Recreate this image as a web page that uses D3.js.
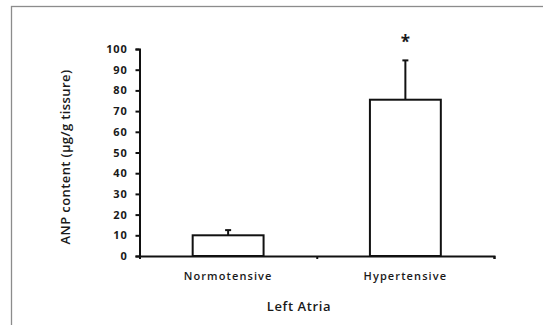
<!DOCTYPE html>
<html>
<head>
<meta charset="utf-8">
<script src="https://cdn.jsdelivr.net/npm/d3@7"></script>
<style>
  body { margin: 0; background: #fff; }
  svg text { font-family: "Open Sans", sans-serif; fill: #1a1a1a; }
</style>
</head>
<body>
<svg id="chart" width="543" height="325"></svg>
<script>
// Data -------------------------------------------------------------
const groups    = ["Normotensive", "Hypertensive"];
const means     = [10, 75.5];
const errors    = [2.5, 19];
const signif    = ["", "*"];
const yTicks    = [0, 10, 20, 30, 40, 50, 60, 70, 80, 90, 100];

// Layout -----------------------------------------------------------
const margin = { top: 49, right: 49, bottom: 69, left: 139.5 },
      fullW  = 543,
      fullH  = 325,
      width  = fullW - margin.left - margin.right,
      height = fullH - margin.top  - margin.bottom;

const svgBase = d3.select("#chart");

// grey frame around the figure
svgBase.append("rect")
  .attr("x", 11.5).attr("y", 6.5)
  .attr("width", 560).attr("height", 340)
  .attr("fill", "none")
  .attr("stroke", "#8c8c8c")
  .attr("stroke-width", 1.3);

const svg = svgBase.append("g")
  .attr("transform", `translate(${margin.left},${margin.top})`);

// Scales -----------------------------------------------------------
const x = d3.scaleBand().domain(groups).range([0, width]).paddingInner(0.6).paddingOuter(0.3);
const xEdges = d3.scaleLinear().domain([0, groups.length]).range([0, width]);
const y = d3.scaleLinear().domain([0, 100]).range([height, 0]);

// Bars -------------------------------------------------------------
const data = groups.map((g, i) => ({ g, v: means[i], e: errors[i], s: signif[i] }));

// error bars (drawn first so bar top covers the base)
svg.selectAll("line.err").data(data).join("line")
  .attr("class", "err")
  .attr("x1", d => x(d.g) + x.bandwidth() / 2)
  .attr("x2", d => x(d.g) + x.bandwidth() / 2)
  .attr("y1", d => y(d.v))
  .attr("y2", d => y(d.v + d.e))
  .attr("stroke", "#111").attr("stroke-width", 2);

svg.selectAll("line.cap").data(data).join("line")
  .attr("class", "cap")
  .attr("x1", d => x(d.g) + x.bandwidth() / 2 - 3)
  .attr("x2", d => x(d.g) + x.bandwidth() / 2 + 3)
  .attr("y1", d => y(d.v + d.e))
  .attr("y2", d => y(d.v + d.e))
  .attr("stroke", "#111").attr("stroke-width", 2);

svg.selectAll("rect.bar").data(data).join("rect")
  .attr("class", "bar")
  .attr("x", d => x(d.g))
  .attr("width", x.bandwidth())
  .attr("y", d => y(d.v))
  .attr("height", d => y(0) - y(d.v))
  .attr("fill", "#fff")
  .attr("stroke", "#111")
  .attr("stroke-width", 2);

// significance star
svg.selectAll("text.star").data(data).join("text")
  .attr("class", "star")
  .attr("x", d => x(d.g) + x.bandwidth() / 2)
  .attr("y", d => y(d.v + d.e) - 12)
  .attr("text-anchor", "middle")
  .style("font-size", "17px")
  .style("font-weight", "bold")
  .text(d => d.s);

// Axes -------------------------------------------------------------
const yAxis = svg.append("g")
  .call(d3.axisLeft(y).tickValues(yTicks).tickSize(4).tickPadding(8));
yAxis.select(".domain").attr("stroke", "#111").attr("stroke-width", 2);
yAxis.selectAll(".tick line").attr("stroke", "#111").attr("stroke-width", 2);
yAxis.selectAll("text")
  .style("font-size", "11px").style("font-weight", 700)
  .style("letter-spacing", "0.8px").attr("fill", "#1a1a1a");

// x axis: ticks at category boundaries, labels under bars
const xAxis = svg.append("g").attr("transform", `translate(0,${height})`)
  .call(d3.axisBottom(xEdges).tickValues([0, 1, 2]).tickSize(3).tickFormat(""));
xAxis.select(".domain").attr("stroke", "#111").attr("stroke-width", 2);
xAxis.selectAll(".tick line").attr("stroke", "#111").attr("stroke-width", 2);

svg.selectAll("text.cat").data(groups).join("text")
  .attr("class", "cat")
  .attr("x", d => x(d) + x.bandwidth() / 2)
  .attr("y", height + 24)
  .attr("text-anchor", "middle")
  .style("font-size", "11px")
  .style("font-weight", 600)
  .style("letter-spacing", "1.1px")
  .text(d => d);

// Axis titles ------------------------------------------------------
svg.append("text")
  .attr("x", 299 - margin.left)
  .attr("y", height + 55)
  .attr("text-anchor", "middle")
  .style("font-size", "13px")
  .style("font-weight", 600)
  .style("letter-spacing", "0.6px")
  .text("Left  Atria");

svg.append("text")
  .attr("transform", `translate(${65 - margin.left},${157 - margin.top}) rotate(-90)`)
  .attr("text-anchor", "middle")
  .attr("dy", "0.35em")
  .style("font-size", "13px")
  .style("font-weight", 600)
  .style("letter-spacing", "0.4px")
  .text("ANP content (µg/g tissure)");
</script>
</body>
</html>
